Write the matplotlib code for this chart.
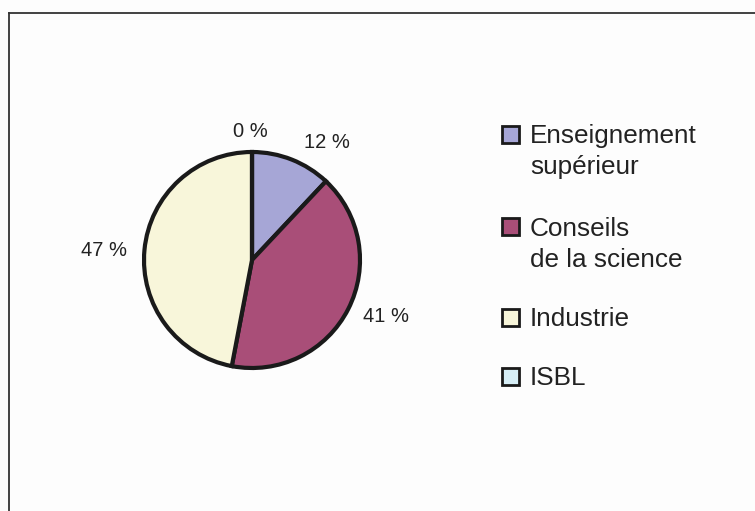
import matplotlib
matplotlib.use("Agg")
import matplotlib.pyplot as plt
from matplotlib.patches import Rectangle
from matplotlib.lines import Line2D
import numpy as np

plt.rcParams['font.family'] = ['Liberation Sans', 'DejaVu Sans']

# Répartition par secteur (ordre horaire depuis le haut)
categories = ["Enseignement\nsupérieur", "Conseils\nde la science", "Industrie", "ISBL"]
shares = [12, 41, 47, 0]
colors = ["#a6a6d6", "#a94e78", "#f8f6da", "#d6eef6"]
pct_labels = [f"{v} %" for v in shares]

# Position of each percentage label (angle offset in degrees, radius) around the pie
label_place = [(-10.7, 1.29), (4.3, 1.345), (1.9, 1.377), (0.7, 1.19)]

W, H = 755, 511
fig = plt.figure(figsize=(W / 100, H / 100), dpi=100)
fig.patch.set_facecolor("#fdfdfd")

# Frame (top and left edges)
fig.add_artist(Line2D([9 / W, 9 / W], [0, 1 - 13 / H], transform=fig.transFigure,
                      color="#333333", lw=1.3))
fig.add_artist(Line2D([9 / W, 1], [1 - 13 / H, 1 - 13 / H], transform=fig.transFigure,
                      color="#333333", lw=1.3))

# Pie axes: centre at (252, 260) px, radius 108 px
cx, cy, R, k = 252, 260, 108, 1.6
side = 2 * R * k
ax = fig.add_axes([(cx - R * k) / W, (H - cy - R * k) / H, side / W, side / H])

wedges, _ = ax.pie(shares, colors=colors, startangle=90, counterclock=False,
                   radius=1.0,
                   wedgeprops=dict(edgecolor="#1a1a1a", linewidth=3.0, joinstyle="miter"))
ax.set_xlim(-k, k)
ax.set_ylim(-k, k)
ax.set_aspect("equal")
ax.axis("off")

for w, txt, (dang, r) in zip(wedges, pct_labels, label_place):
    mid = np.deg2rad((w.theta1 + w.theta2) / 2 + dang)
    ax.text(r * np.cos(mid), r * np.sin(mid), txt, ha="center", va="center",
            fontsize=14.5, color="#222222")

# Legend
leg_y = [134, 227, 317, 376]
for cat, col, y in zip(categories, colors, leg_y):
    fig.add_artist(Rectangle((502 / W, 1 - (y + 8.5) / H), 17 / W, 17 / H,
                             transform=fig.transFigure, facecolor=col,
                             edgecolor="#1a1a1a", lw=2.0))
    fig.text(530 / W, 1 - (y - 10) / H, cat, ha="left", va="top",
             fontsize=18.8, color="#222222", linespacing=1.36)

fig.savefig("out.png", dpi=100, facecolor=fig.get_facecolor())
